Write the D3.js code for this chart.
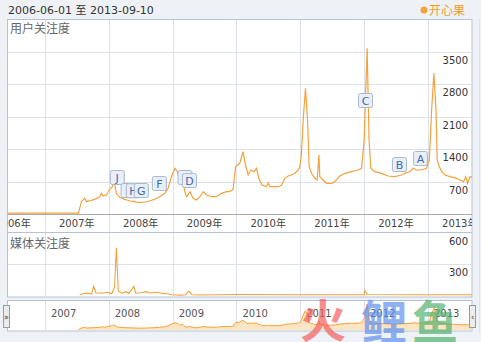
<!DOCTYPE html>
<html>
<head>
<meta charset="utf-8">
<script src="https://cdn.jsdelivr.net/npm/d3@7"></script>
<style>
body { margin: 0; background: #eef2f7; }
text { font-family: "DejaVu Sans", "Noto Sans CJK SC", sans-serif; }
.cjk { font-family: "Noto Sans CJK SC", sans-serif; }
</style>
</head>
<body>
<svg id="chart" width="481" height="342"></svg>
<script>
// user attention (用户关注度)
const userDates = ["2006-06-01","2007-07-12","2007-07-29","2007-08-17","2007-08-27","2007-09-14","2007-10-13","2007-11-11","2007-11-20","2007-11-30","2007-12-19",
  "2008-01-07","2008-01-22","2008-01-30","2008-02-04","2008-02-14","2008-03-04","2008-04-02","2008-04-30","2008-05-29","2008-06-26","2008-07-25","2008-08-23","2008-09-20","2008-10-19","2008-11-17","2008-12-06","2008-12-25",
  "2009-01-14","2009-01-29","2009-02-11","2009-02-21","2009-03-03","2009-03-12","2009-03-22","2009-04-10","2009-04-28","2009-05-18","2009-06-06","2009-06-25","2009-07-14","2009-08-12","2009-09-09","2009-10-08","2009-11-06","2009-11-25","2009-12-13","2009-12-27",
  "2010-01-20","2010-02-08","2010-02-22","2010-03-09","2010-03-25","2010-04-12","2010-04-26","2010-05-09","2010-05-26","2010-06-22","2010-07-02","2010-07-11","2010-07-30","2010-08-28","2010-09-16","2010-10-05","2010-10-24","2010-11-12","2010-12-01","2010-12-20","2010-12-30",
  "2011-01-08","2011-01-18","2011-01-31","2011-02-12","2011-02-21","2011-03-07","2011-03-26","2011-04-08","2011-04-18","2011-04-23","2011-05-12","2011-05-31","2011-06-29","2011-07-18","2011-08-16","2011-09-13","2011-10-22","2011-11-29","2011-12-18",
  "2012-01-02","2012-01-11","2012-01-19","2012-01-24","2012-01-30","2012-02-09","2012-03-03","2012-04-10","2012-05-18","2012-06-25","2012-08-03","2012-08-22","2012-09-19","2012-10-08","2012-10-27","2012-11-25","2012-12-24",
  "2013-01-09","2013-01-22","2013-02-04","2013-02-16","2013-02-23","2013-03-07","2013-03-21","2013-04-09","2013-05-07","2013-05-26","2013-06-14","2013-07-03","2013-07-23","2013-08-05","2013-08-16","2013-08-29","2013-09-10"];
const userValues = [30,30,275,354,275,296,326,382,455,397,418,
  541,597,704,660,455,369,326,296,275,253,268,290,326,382,455,562,812,
  992,919,670,812,700,490,382,490,347,311,382,490,418,382,382,455,490,490,541,1026,
  1099,1348,1063,848,955,919,992,777,640,597,680,597,597,597,633,777,826,848,884,955,1026,
  1313,2029,2709,2029,1026,884,777,741,1277,812,741,670,670,704,826,884,919,955,992,
  1600,2673,3568,2673,1600,992,919,884,826,812,848,884,919,992,955,955,992,
  1170,2243,3031,2243,1170,1026,919,848,812,798,777,741,704,812,670,812,800];

// media attention (媒体关注度)
const mediaDates = ["2007-07-19","2007-08-06","2007-09-03","2007-09-26","2007-10-07","2007-10-19","2007-11-22","2007-12-26",
  "2008-01-18","2008-02-04","2008-02-14","2008-02-25","2008-03-16","2008-04-08","2008-04-25","2008-05-24","2008-06-04","2008-07-03","2008-08-05","2008-08-24","2008-10-02","2008-11-01","2008-12-05","2008-12-28",
  "2009-02-12","2009-03-18","2009-04-01","2009-04-11","2009-04-22","2009-06-06","2009-12-29","2010-12-30","2012-01-01","2012-01-07","2012-01-18","2012-11-16","2013-09-10"];
const mediaValues = [5,15,20,12,90,25,20,30,
  15,80,460,40,20,35,18,85,20,25,35,22,30,20,15,5,
  2,5,40,30,5,3,8,6,6,45,8,6,6];

// event flags
const flagLetters = ["J","I","H","G","F","E","D","C","B","A"];
const flagDates = ["2008-02-16","2008-04-18","2008-05-18","2008-07-03","2008-10-14","2009-03-10","2009-04-04","2012-01-07","2012-07-19","2012-11-16"];
const flagValues = [805,526,520,526,676,805,740,2458,1084,1213];

const userTicks = [700, 1400, 2100, 2800, 3500];
const mediaTicks = [300, 600];
const yearStarts = ["2007-01-01","2008-01-01","2009-01-01","2010-01-01","2011-01-01","2012-01-01","2013-01-01"];
const labelYears = [2006, 2007, 2008, 2009, 2010, 2011, 2012, 2013];

const parse = d3.timeParse("%Y-%m-%d");
const svg = d3.select("#chart");
const orange = "#f5a13c";

const left = 7.5, right = 472;
const x = d3.scaleTime()
  .domain([parse("2006-06-01"), parse("2013-09-10")])
  .range([left, right]);
const yUser = d3.scaleLinear().domain([0, 3500]).range([214.5, 51.5]);
const yMedia = d3.scaleLinear().domain([0, 600]).range([295.3, 233.3]);
const yNav = d3.scaleLinear().domain([0, 3600]).range([330, 304]);

let userData = userDates.map((d, i) => ({date: parse(d), value: userValues[i]}));
let mediaData = mediaDates.map((d, i) => ({date: parse(d), value: mediaValues[i]}));

let defs = svg.append("defs");
defs.append("clipPath").attr("id", "clipAll")
  .append("rect").attr("x", left).attr("y", 0).attr("width", right - left).attr("height", 342);

// header
let header = svg.append("text").attr("x", 8).attr("y", 14)
  .style("font-size", "11px").attr("fill", "#333");
header.append("tspan").text("2006-06-01 ");
header.append("tspan").attr("class", "cjk").text("至");
header.append("tspan").text(" 2013-09-10");
svg.append("circle").attr("cx", 424).attr("cy", 10).attr("r", 3.5).attr("fill", "#f7a13a");
svg.append("text").attr("x", 429).attr("y", 15).attr("class", "cjk")
  .style("font-size", "12px").attr("fill", "#f39a2c").text("开心果");

// panels
svg.append("rect").attr("x", left).attr("y", 19.5).attr("width", right - left).attr("height", 277.5)
  .attr("fill", "#fff").attr("stroke", "#b6c2d6");
svg.append("rect").attr("x", left).attr("y", 300.5).attr("width", right - left).attr("height", 30.5)
  .attr("fill", "#fff").attr("stroke", "#b6c2d6");
svg.append("line").attr("x1", 479.5).attr("x2", 479.5).attr("y1", 19).attr("y2", 333)
  .attr("stroke", "#dfe4ec");

let grid = svg.append("g").attr("clip-path", "url(#clipAll)");

// vertical year lines
grid.selectAll("line.vg").data(yearStarts).enter().append("line")
  .attr("x1", d => Math.round(x(parse(d))) + 0.5)
  .attr("x2", d => Math.round(x(parse(d))) + 0.5)
  .attr("y1", 20).attr("y2", 297)
  .attr("stroke", "#dde2ea");
grid.selectAll("line.ng").data(yearStarts).enter().append("line")
  .attr("x1", d => Math.round(x(parse(d))) + 0.5)
  .attr("x2", d => Math.round(x(parse(d))) + 0.5)
  .attr("y1", 301).attr("y2", 331)
  .attr("stroke", "#dde2ea");

// horizontal grid lines
grid.selectAll("line.ug").data(userTicks).enter().append("line")
  .attr("x1", left).attr("x2", right)
  .attr("y1", d => Math.round(yUser(d)) + 0.5).attr("y2", d => Math.round(yUser(d)) + 0.5)
  .attr("stroke", "#dde2ea");
grid.selectAll("line.mg").data(mediaTicks.slice(0, 1)).enter().append("line")
  .attr("x1", left).attr("x2", right)
  .attr("y1", d => Math.round(yMedia(d)) + 0.5).attr("y2", d => Math.round(yMedia(d)) + 0.5)
  .attr("stroke", "#dde2ea");

// separators
svg.append("line").attr("x1", left).attr("x2", right).attr("y1", 214.5).attr("y2", 214.5).attr("stroke", "#a8a8a8");
svg.append("line").attr("x1", left).attr("x2", right).attr("y1", 232.5).attr("y2", 232.5).attr("stroke", "#b6c2d6");

// x labels main
grid.selectAll("text.xl").data(labelYears).enter().append("text")
  .attr("x", d => x(new Date(d, 6, 2)))
  .attr("y", 227)
  .attr("text-anchor", "middle")
  .style("font-size", "10px")
  .attr("fill", "#444")
  .text(d => d + "年");

// watermark (behind nav labels)
let wm = svg.append("g").attr("opacity", 0.68).attr("class", "cjk")
  .style("font-size", "46px").style("font-weight", "bold");
wm.append("text").attr("x", 300).attr("y", 337).attr("fill", "#f45a5a").text("火");
wm.append("text").attr("x", 361).attr("y", 339).attr("fill", "#5b8def").text("鲤");
wm.append("text").attr("x", 412).attr("y", 339).attr("fill", "#4fb06b").text("鱼");

// nav labels
grid.selectAll("text.nl").data(yearStarts).enter().append("text")
  .attr("x", d => x(parse(d)) + 6)
  .attr("y", 317)
  .style("font-size", "10px")
  .attr("fill", "#555")
  .text(d => d.slice(0, 4));

// y labels
svg.selectAll("text.yl").data(userTicks).enter().append("text")
  .attr("x", 468).attr("y", d => yUser(d) + 12)
  .attr("text-anchor", "end")
  .style("font-size", "10px").attr("fill", "#333")
  .text(d => d);
svg.selectAll("text.ml").data(mediaTicks).enter().append("text")
  .attr("x", 468).attr("y", d => yMedia(d) + 12)
  .attr("text-anchor", "end")
  .style("font-size", "10px").attr("fill", "#333")
  .text(d => d);

svg.append("text").attr("x", 10).attr("y", 33).attr("class", "cjk")
  .style("font-size", "12px").attr("fill", "#666").text("用户关注度");
svg.append("text").attr("x", 10).attr("y", 248).attr("class", "cjk")
  .style("font-size", "12px").attr("fill", "#666").text("媒体关注度");

// lines
let userLine = d3.line().x(d => x(d.date)).y(d => yUser(d.value));
grid.append("path").attr("d", userLine(userData))
  .attr("fill", "none").attr("stroke", orange).attr("stroke-width", 1.2);

let mediaLine = d3.line().x(d => x(d.date)).y(d => yMedia(d.value));
grid.append("path").attr("d", mediaLine(mediaData))
  .attr("fill", "none").attr("stroke", orange).attr("stroke-width", 1.1);

let navData = userData.filter(d => d.date >= parse("2007-07-12"));
let navArea = d3.area().x(d => x(d.date)).y0(yNav(0)).y1(d => yNav(d.value));
grid.append("path").attr("d", navArea(navData))
  .attr("fill", "#fbe0b8").attr("fill-opacity", 0.85).attr("stroke", "none");
grid.append("path").attr("d", d3.line().x(d => x(d.date)).y(d => yNav(d.value))(navData))
  .attr("fill", "none").attr("stroke", orange).attr("stroke-width", 1);

// flags
let flags = svg.append("g");
flagLetters.forEach(function(letter, i) {
  let cx = x(parse(flagDates[i]));
  let cy = yUser(flagValues[i]);
  let g = flags.append("g").attr("transform", "translate(" + (cx - 7) + "," + (cy - 7) + ")");
  g.append("rect").attr("x", 1).attr("y", 1).attr("width", 14).attr("height", 14).attr("rx", 2)
    .attr("fill", "rgba(0,0,0,0.12)");
  g.append("rect").attr("x", 0.5).attr("y", 0.5).attr("width", 14).attr("height", 14).attr("rx", 2)
    .attr("fill", "#e9eef7").attr("stroke", "#a7b8d3");
  g.append("text").attr("x", 7.5).attr("y", 12).attr("text-anchor", "middle")
    .style("font-size", "11px").attr("fill", "#3d6bb3").text(letter);
});

// navigator handles
[[3, "»"], [469, "‹"]].forEach(function(h) {
  let g = svg.append("g").attr("transform", "translate(" + h[0] + ",305)");
  g.append("rect").attr("x", 0.5).attr("y", 0.5).attr("width", 6).attr("height", 22)
    .attr("fill", "#ececec").attr("stroke", "#9a9a9a");
  g.append("text").attr("x", 3.5).attr("y", 15).attr("text-anchor", "middle")
    .style("font-size", "8px").attr("fill", "#333").text(h[1]);
});
</script>
</body>
</html>
